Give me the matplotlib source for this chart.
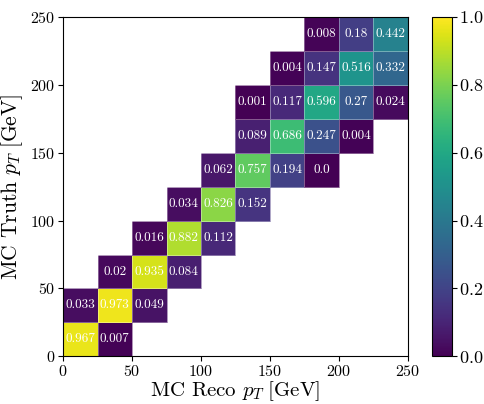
import numpy as np
import matplotlib
matplotlib.use("Agg")
from matplotlib import pyplot as plt

plt.rcParams['font.family'] = 'serif'
plt.rcParams['font.serif'] = ['cmr10']
plt.rcParams['mathtext.fontset'] = 'cm'
plt.rcParams['axes.formatter.use_mathtext'] = True

bin_edges = [0, 25, 50, 75, 100, 125, 150, 175, 200, 225, 250]

# (truth bin, reco bin, fraction) -- column-normalised response
truth_bins = [0, 0,
              1, 1, 1,
              2, 2, 2,
              3, 3, 3,
              4, 4, 4,
              5, 5, 5, 5,
              6, 6, 6, 6,
              7, 7, 7, 7, 7,
              8, 8, 8, 8,
              9, 9, 9]
reco_bins = [0, 1,
             0, 1, 2,
             1, 2, 3,
             2, 3, 4,
             3, 4, 5,
             4, 5, 6, 7,
             5, 6, 7, 8,
             5, 6, 7, 8, 9,
             6, 7, 8, 9,
             7, 8, 9]
fractions = [0.967, 0.007,
             0.033, 0.973, 0.049,
             0.02, 0.935, 0.084,
             0.016, 0.882, 0.112,
             0.034, 0.826, 0.152,
             0.062, 0.757, 0.194, 0.0,
             0.089, 0.686, 0.247, 0.004,
             0.001, 0.117, 0.596, 0.27, 0.024,
             0.004, 0.147, 0.516, 0.332,
             0.008, 0.18, 0.442]

n = len(bin_edges) - 1
matrix = np.full((n, n), np.nan)
for t, r, v in zip(truth_bins, reco_bins, fractions):
    matrix[t, r] = v
matrix = np.ma.masked_invalid(matrix)

fig = plt.figure(figsize=(4.85, 4.04), dpi=100)
ax = fig.add_axes([0.13, 0.118, 0.711, 0.84])
cax = fig.add_axes([0.891, 0.118, 0.04, 0.84])

mesh = ax.pcolormesh(bin_edges, bin_edges, matrix, cmap='viridis',
                     vmin=0, vmax=1, edgecolor=(1, 1, 1, 0.35), linewidth=0.5)
centers = [(a + b) / 2 for a, b in zip(bin_edges[:-1], bin_edges[1:])]
for t, r, v in zip(truth_bins, reco_bins, fractions):
    ax.text(centers[r], centers[t], str(v), ha='center', va='center',
            color='white', fontsize=9.5)

ax.set_xlim(0, 250)
ax.set_ylim(0, 250)
ax.set_xticks([0, 50, 100, 150, 200, 250])
ax.set_yticks([0, 50, 100, 150, 200, 250])
ax.tick_params(labelsize=11.5, pad=2)
ax.set_xlabel(r'MC Reco $p_T\;[\mathrm{GeV}]$', fontsize=15, labelpad=0)
ax.set_ylabel(r'MC Truth $p_T\;[\mathrm{GeV}]$', fontsize=15.5, labelpad=4)

cb = fig.colorbar(mesh, cax=cax)
cb.set_ticks([0.0, 0.2, 0.4, 0.6, 0.8, 1.0])
cb.ax.tick_params(labelsize=13, pad=2)
cb.outline.set_linewidth(0.8)

fig.savefig('out.png', dpi=100)
